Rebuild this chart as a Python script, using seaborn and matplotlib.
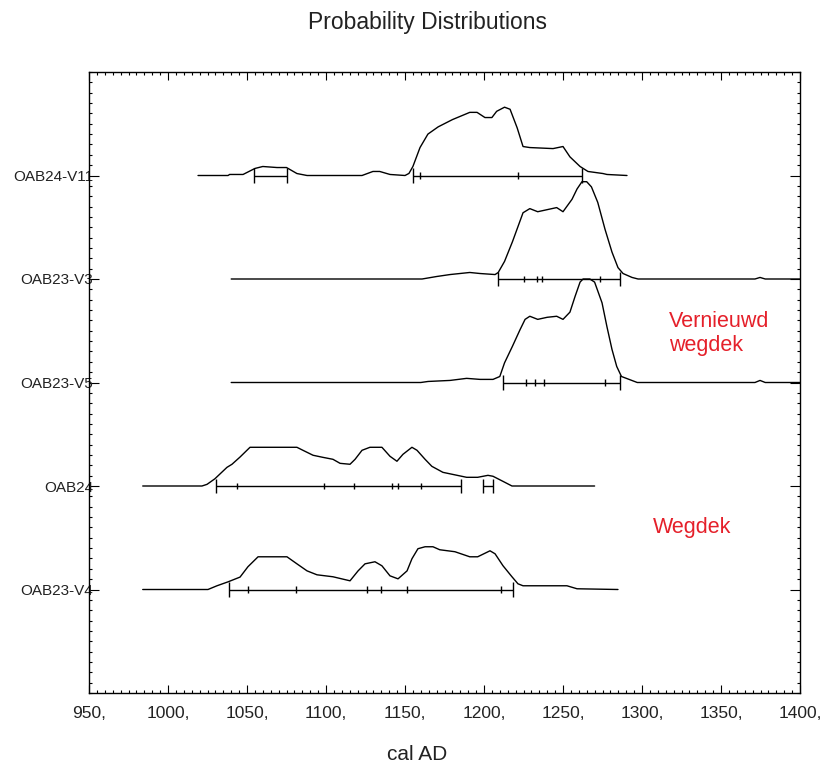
import numpy as np
import pandas as pd
import matplotlib
matplotlib.use("Agg")
import matplotlib.pyplot as plt
from matplotlib.ticker import MultipleLocator
import seaborn as sns

# ---------------- data ----------------
categories = ["OAB24-V11", "OAB23-V3", "OAB23-V5", "OAB24", "OAB23-V4"]

v11_year = [1019, 1038, 1039, 1047.5, 1055, 1060, 1069, 1075, 1081.6, 1088, 1122.8, 1129.7, 1134, 1140.5,
            1150, 1152.5, 1155, 1159.5, 1164.5, 1171, 1180, 1191, 1195.6, 1200.6, 1205, 1208, 1213, 1216.5,
            1221, 1224.7, 1229, 1243.7, 1250, 1254.4, 1260.8, 1265.8, 1275.3, 1277.8, 1290.5]
v11_prob = [0, 0, .01, .01, .068, .087, .077, .077, .019, 0, 0, .039, .039, .01,
            0, .02, .087, .27, .40, .47, .54, .61, .61, .56, .56, .62, .66, .64,
            .46, .28, .27, .26, .28, .18, .087, .039, .019, .01, 0]

v3_year = [1040, 1160.8, 1170, 1178.5, 1191, 1197.5, 1207, 1209, 1213, 1218, 1224.7, 1229, 1234, 1246,
           1250, 1255.7, 1258.9, 1262, 1265, 1268, 1272, 1276.6, 1281, 1284.8, 1288, 1293.7, 1297.5,
           1371.5, 1374.7, 1378, 1400]
v3_prob = [0, 0, .024, .043, .063, .053, .043, .063, .17, .36, .64, .68, .65, .69,
           .65, .77, .87, .94, .94, .89, .74, .48, .26, .11, .053, .015, 0,
           0, .015, 0, 0]

v5_year = [1040, 1160, 1164.6, 1178.5, 1189, 1197.5, 1205.7, 1210, 1213, 1218, 1222.8, 1226, 1229, 1234,
           1240, 1246, 1250, 1254.4, 1257.6, 1260.8, 1262.7, 1267, 1270, 1274.7, 1277.8, 1281, 1284, 1287,
           1292, 1297, 1371.5, 1374.7, 1378, 1400]
v5_prob = [0, 0, .01, .02, .04, .03, .03, .058, .19, .35, .51, .61, .64, .61,
           .63, .64, .61, .68, .83, .97, 1.0, 1.0, .97, .77, .54, .32, .155, .058,
           .029, 0, 0, .02, 0, 0]

oab24_year = [984, 1021.5, 1024.7, 1029.7, 1037.3, 1040.5, 1045.6, 1051.9, 1081.6, 1085.4, 1091.8, 1098,
              1104.4, 1108.9, 1115.2, 1118.4, 1122.8, 1127.8, 1135.4, 1140.5, 1144.9, 1148.7, 1154.4, 1157.6,
              1162.7, 1167, 1174, 1189, 1196, 1202.5, 1205.7, 1212, 1217.7, 1270]
oab24_prob = [0, 0, .016, .07, .18, .21, .28, .374, .374, .345, .297, .277,
              .258, .219, .21, .258, .345, .374, .374, .287, .239, .306, .374, .345,
              .258, .19, .132, .084, .084, .103, .094, .045, 0, 0]

v4_year = [984, 1025.3, 1031, 1038, 1045.6, 1050.6, 1057, 1075.3, 1081.6, 1088, 1094.3, 1104.4, 1115.2,
           1120.3, 1124.7, 1131, 1135.4, 1140.5, 1145.6, 1151.3, 1154.4, 1158.2, 1162.7, 1167.7, 1172,
           1181.6, 1191, 1196, 1203.8, 1207, 1212, 1217.7, 1221.5, 1224.7, 1252.5, 1258.9, 1284.8]
v4_prob = [0, 0, .036, .074, .12, .22, .316, .316, .248, .18, .142, .123, .084,
           .18, .248, .268, .229, .132, .103, .18, .297, .394, .413, .413, .384,
           .365, .316, .316, .374, .345, .23, .123, .055, .036, .036, .007, 0]

# 2-sigma ranges (long end ticks) and 1-sigma boundaries (short ticks)
v11_sig2 = [(1054.4, 1075.3), (1155, 1262)]
v11_sig1 = [1159.5, 1221.5]
v3_sig2 = [(1208.9, 1286)]
v3_sig1 = [1225.3, 1233.5, 1236.7, 1273.4]
v5_sig2 = [(1212, 1286)]
v5_sig1 = [1226.6, 1232.3, 1238, 1276.6]
oab24_sig2 = [(1030.4, 1185.4), (1199.4, 1205.7)]
oab24_sig1 = [1043.7, 1098.7, 1117.7, 1141.8, 1145.6, 1160.1]
v4_sig2 = [(1038.6, 1218.4)]
v4_sig1 = [1050.6, 1081, 1126, 1134.8, 1151.3, 1210.8]

x_ticks = [950, 1000, 1050, 1100, 1150, 1200, 1250, 1300, 1350, 1400]

series = [
    (v11_year, v11_prob, v11_sig2, v11_sig1),
    (v3_year, v3_prob, v3_sig2, v3_sig1),
    (v5_year, v5_prob, v5_sig2, v5_sig1),
    (oab24_year, oab24_prob, oab24_sig2, oab24_sig1),
    (v4_year, v4_prob, v4_sig2, v4_sig1),
]

# ---------------- plotting ----------------
sns.set_theme(style="white")
plt.rcParams["font.family"] = ["Liberation Sans", "DejaVu Sans"]

fig = plt.figure(figsize=(8.32, 7.67), dpi=100)
ax = fig.add_axes([89 / 832, 74 / 767, 711 / 832, 621 / 767])

n = len(categories)
frames = []
for i, (name, (yr, pr, s2, s1)) in enumerate(zip(categories, series)):
    base = n - i
    frames.append(pd.DataFrame({"year": yr, "y": base + np.asarray(pr), "name": name}))
df = pd.concat(frames, ignore_index=True)

sns.lineplot(data=df, x="year", y="y", units="name", estimator=None, sort=False,
             color="black", lw=1.0, ax=ax, legend=False)

for i, (name, (yr, pr, s2, s1)) in enumerate(zip(categories, series)):
    base = n - i
    for lo, hi in s2:
        ax.hlines(base, lo, hi, color="black", lw=1.0)
        ax.vlines([lo, hi], base - 0.068, base + 0.068, color="black", lw=1.0)
    ax.vlines(s1, base - 0.03, base + 0.03, color="black", lw=1.0)

ax.set_xlim(950, 1400)
ax.set_ylim(0, 6)
ax.set_xticks(x_ticks)
ax.set_xticklabels([f"{t}," for t in x_ticks], fontsize=12.5)
ax.set_yticks(list(range(n, 0, -1)))
ax.set_yticklabels(categories, fontsize=11)
ax.xaxis.set_minor_locator(MultipleLocator(5))
ax.yaxis.set_minor_locator(MultipleLocator(0.1))
ax.tick_params(axis="both", which="both", direction="in", top=True, right=True,
               bottom=True, left=True, color="black", labelcolor="#222222")
ax.tick_params(axis="x", which="major", length=6, width=0.8, pad=9)
ax.tick_params(axis="y", which="major", length=7, width=0.8, pad=-3)
ax.tick_params(which="minor", length=2.5, width=0.8)
for s in ax.spines.values():
    s.set_color("black")
    s.set_linewidth(1.0)
ax.set_xlabel("")
ax.set_ylabel("")

fig.text(427 / 832, 1 - 22 / 767, "Probability Distributions", ha="center", va="center",
         fontsize=16.5, color="#222222")
fig.text(417 / 832, 1 - 754 / 767, "cal AD", ha="center", va="center",
         fontsize=15, color="#222222")

red = "#e5202a"
fig.text(669 / 832, 1 - 327 / 767, "Vernieuwd", ha="left", va="baseline", fontsize=15.5, color=red)
fig.text(669 / 832, 1 - 351 / 767, "wegdek", ha="left", va="baseline", fontsize=15.5, color=red)
fig.text(653 / 832, 1 - 533 / 767, "Wegdek", ha="left", va="baseline", fontsize=15.5, color=red)

fig.savefig("out.png", dpi=100, facecolor="white")
